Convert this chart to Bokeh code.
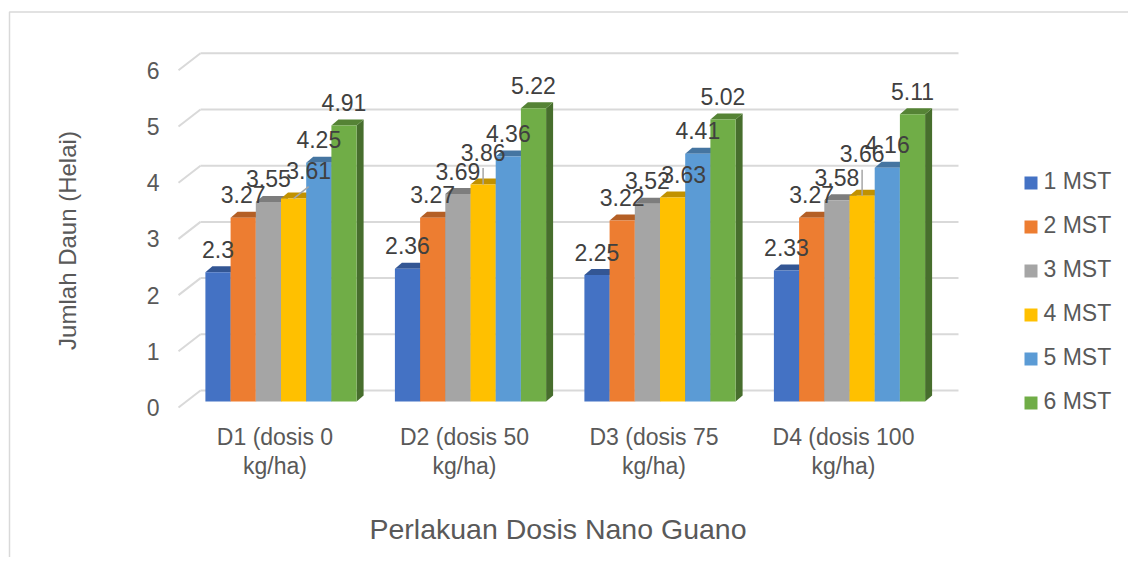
import math
from bokeh.plotting import figure
from bokeh.models import Range1d
from bokeh.core.properties import value
from bokeh.embed import file_html
from bokeh.resources import INLINE

# ---------------- data ----------------
categories = ["D1 (dosis 0 kg/ha)", "D2 (dosis 50 kg/ha)",
              "D3 (dosis 75 kg/ha)", "D4 (dosis 100 kg/ha)"]
series_names = ["1 MST", "2 MST", "3 MST", "4 MST", "5 MST", "6 MST"]
mst1 = [2.30, 2.36, 2.25, 2.33]
mst2 = [3.27, 3.27, 3.22, 3.27]
mst3 = [3.55, 3.69, 3.52, 3.58]
mst4 = [3.61, 3.86, 3.63, 3.66]
mst5 = [4.25, 4.36, 4.41, 4.16]
mst6 = [4.91, 5.22, 5.02, 5.11]
series_values = [mst1, mst2, mst3, mst4, mst5, mst6]
y_ticks = [0, 1, 2, 3, 4, 5, 6]
y_title = "Jumlah Daun (Helai)"
x_title = "Perlakuan Dosis Nano Guano"

# ---------------- style / layout ----------------
colors = ["#4472C4", "#ED7D31", "#A5A5A5", "#FFC000", "#5B9BD5", "#70AD47"]

def shade(hexc, f):
    r, g, b = int(hexc[1:3], 16), int(hexc[3:5], 16), int(hexc[5:7], 16)
    return "#%02x%02x%02x" % (int(r * f), int(g * f), int(b * f))

top_colors = [shade(c, 0.76) for c in colors]
side_colors = [shade(c, 0.64) for c in colors]

FONT = value("Liberation Sans")
W, H = 1128, 557
PX = 189.5      # pixels per category
PY = 56.2       # pixels per unit
OX = 280.5      # canvas x of first category centre
OY = 401.0      # canvas y of value 0
BW = 25.2 / PX  # bar width in data units
DX = 7 / PX     # 3D depth
DY = 6 / PY

def ix(x_px):
    return (x_px - OX) / PX

def iy(y_px):
    return (OY - y_px) / PY

p = figure(width=W, height=H,
           x_range=Range1d(-OX / PX, (W - OX) / PX),
           y_range=Range1d((OY - H) / PY, OY / PY),
           output_backend="svg", toolbar_location=None, tools="",
           min_border=0, x_axis_location=None, y_axis_location=None)
p.xgrid.visible = False
p.ygrid.visible = False
p.outline_line_color = None
p.background_fill_color = "white"
p.border_fill_color = "white"

GRID = "#d9d9d9"
# chart border (left and top visible)
p.line([ix(9), ix(9), ix(1300)], [iy(800), iy(11.5), iy(11.5)],
       line_color=GRID, line_width=1.5)

# 3D back wall gridlines and floor/side diagonals
back_shift = 11 / PY
front_shift = -6 / PY
gx0, gx1, gxf = ix(200), ix(958), ix(178)
p.segment(x0=[gx0] * len(y_ticks), y0=[t + back_shift for t in y_ticks],
          x1=[gx1] * len(y_ticks), y1=[t + back_shift for t in y_ticks],
          line_color=GRID, line_width=2)
p.segment(x0=[gxf] * len(y_ticks), y0=[t + front_shift for t in y_ticks],
          x1=[gx0] * len(y_ticks), y1=[t + back_shift for t in y_ticks],
          line_color=GRID, line_width=2)

# bars
n_s = len(series_values)
for j, vals in enumerate(series_values):
    cx = [i + (j - (n_s - 1) / 2) * BW for i in range(len(vals))]
    L = [c - BW / 2 for c in cx]
    R = [c + BW / 2 for c in cx]
    side_xs = [[r, r, r + DX, r + DX] for r in R]
    side_ys = [[0, v, v + DY, DY] for v in vals]
    top_xs = [[l, r, r + DX, l + DX] for l, r in zip(L, R)]
    top_ys = [[v, v, v + DY, v + DY] for v in vals]
    p.patches(side_xs, side_ys, fill_color=side_colors[j], line_color=None)
    p.patches(top_xs, top_ys, fill_color=top_colors[j], line_color=None)
    p.quad(left=L, right=R, bottom=[0] * len(vals), top=vals,
           fill_color=colors[j], line_color=None)

# data labels (a few nudged, as in the reference, with leader lines)
nudges = {(0, 3): (15, -5, True), (1, 3): (0, -9.5, True),
          (2, 3): (11, 0, False), (3, 3): (0, -19, True)}
lx, ly, lt = [], [], []
sx0, sy0, sx1, sy1 = [], [], [], []
for j, vals in enumerate(series_values):
    for i, v in enumerate(vals):
        cx = i + (j - (n_s - 1) / 2) * BW
        nx, ny, lead = nudges.get((i, j), (0, 0, False))
        x = cx + nx / PX
        y = v + (23 - ny) / PY
        lx.append(x)
        ly.append(y)
        lt.append(f"{v:g}")
        if lead:
            sx0.append(x)
            sy0.append(y - 16 / PY)
            sx1.append(cx)
            sy1.append(v)
p.segment(x0=sx0, y0=sy0, x1=sx1, y1=sy1, line_color="#A6A6A6", line_width=1.5)
p.text(x=lx, y=ly, text=lt, text_font=FONT, text_font_size="23px",
       text_color="#404040", text_align="center", text_baseline="middle")

# y tick labels
p.text(x=[ix(159)] * len(y_ticks), y=[t - 6 / PY for t in y_ticks],
       text=[str(t) for t in y_ticks], text_font=FONT, text_font_size="23px",
       text_color="#595959", text_align="right", text_baseline="middle")

# category labels (two lines)
line1 = [c.rsplit(" ", 1)[0] for c in categories]
line2 = [c.rsplit(" ", 1)[1] for c in categories]
cxs = [i - 6 / PX for i in range(len(categories))]
p.text(x=cxs, y=[iy(436)] * len(categories), text=line1, text_font=FONT,
       text_font_size="23px", text_color="#595959", text_align="center",
       text_baseline="middle")
p.text(x=cxs, y=[iy(465.5)] * len(categories), text=line2, text_font=FONT,
       text_font_size="23px", text_color="#595959", text_align="center",
       text_baseline="middle")

# axis titles
p.text(x=[ix(67)], y=[iy(240)], text=[y_title], angle=math.pi / 2,
       text_font=FONT, text_font_size="24px", text_color="#595959",
       text_align="center", text_baseline="middle")
p.text(x=[ix(557.5)], y=[iy(528.3)], text=[x_title], text_font=FONT,
       text_font_size="28.5px", text_color="#595959", text_align="center",
       text_baseline="middle")

# legend
leg_sq_y = [iy(182.5 + 44 * j) for j in range(n_s)]
leg_tx_y = [iy(180 + 44 * j) for j in range(n_s)]
p.rect(x=[ix(1030.5)] * n_s, y=leg_sq_y, width=13 / PX, height=13 / PY,
       fill_color=colors, line_color=None)
p.text(x=[ix(1043)] * n_s, y=leg_tx_y, text=series_names, text_font=FONT,
       text_font_size="23px", text_color="#595959", text_align="left",
       text_baseline="middle")

open("out.html", "w").write(file_html(p, INLINE))
